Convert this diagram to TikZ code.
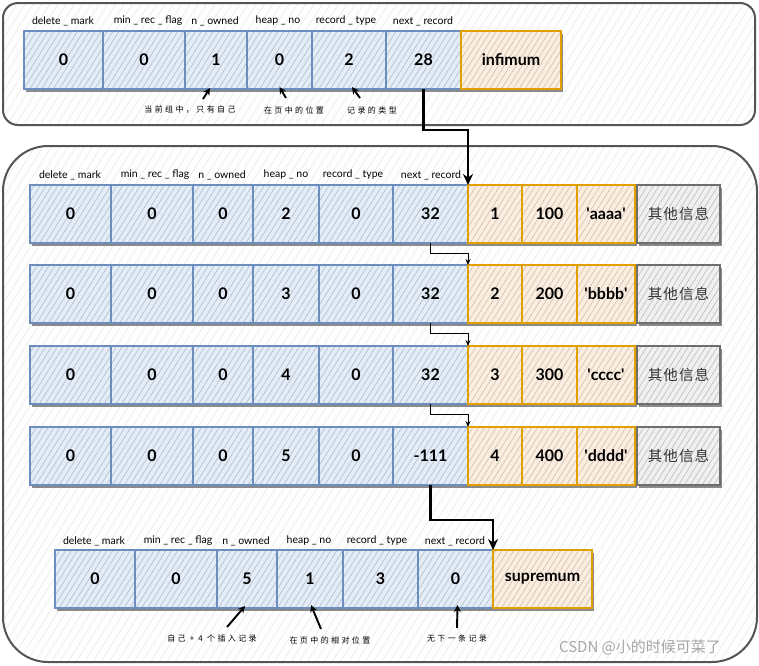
\documentclass[tikz,border=0pt]{standalone}
\usepackage{fontspec}
\setmainfont{Lato}
\newfontfamily\cjk{Noto Sans CJK SC}
\newfontfamily\cjkann[LetterSpace=30]{Noto Sans CJK SC}
\newfontfamily\cjkother[LetterSpace=8]{Noto Sans CJK SC}
\usetikzlibrary{patterns.meta,arrows.meta,calc}
\definecolor{bfill}{HTML}{E4ECF7}
\definecolor{bline}{HTML}{6C8EBF}
\definecolor{bhatch}{HTML}{A9B4C2}
\definecolor{ofill}{HTML}{FBEDE0}
\definecolor{oline}{HTML}{E0A000}
\definecolor{ohatch}{HTML}{C8B8A8}
\definecolor{gfill}{HTML}{F0F0F0}
\definecolor{gline}{HTML}{6E6E6E}
\definecolor{ghatch}{HTML}{B4B4B4}
\definecolor{frame}{HTML}{555555}
\definecolor{chatch}{HTML}{E6E6E6}
\definecolor{shadowc}{HTML}{8A8A8A}
\newcommand\cellat[7]{%
  \fill[shadowc] ({#3+1.5},{#5+3}) rectangle ({#4+1.5},{#6+3});
  \node[#2, minimum width={(#4-#3)*1pt}, minimum height={(#6-#5)*1pt}] (#1) at (#3,#5) {#7};}
\begin{document}
\begin{tikzpicture}[x=1pt,y=-1pt,
  cellbase/.style={draw, line width=1.1pt, inner sep=0pt, outer sep=0pt, anchor=north west,
    font=\bfseries\fontsize{16}{18}\selectfont},
  bluecell/.style={cellbase, draw=bline, preaction={fill=bfill},
    pattern={Lines[angle=58,distance=5pt,line width=0.5pt]}, pattern color=bhatch},
  orangecell/.style={cellbase, draw=oline, preaction={fill=ofill},
    pattern={Lines[angle=58,distance=5pt,line width=0.5pt]}, pattern color=ohatch},
  graycell/.style={cellbase, draw=gline, preaction={fill=gfill},
    pattern={Lines[angle=58,distance=5pt,line width=0.5pt]}, pattern color=ghatch,
    font=\cjkother\fontsize{14.5}{16}\selectfont, text=black!80},
  container/.style={draw=frame, line width=2pt, preaction={fill=white},
    pattern={Lines[angle=58,distance=7pt,line width=0.5pt]}, pattern color=chatch},
  lab/.style={font=\fontsize{10.5}{12}\selectfont, inner sep=0pt},
  ann/.style={font=\cjkann\fontsize{8}{9}\selectfont, inner sep=0pt},
  bigarrow/.style={line width=2.4pt, -{Stealth[length=11pt,width=10pt]}},
  smallarrow/.style={line width=0.8pt, -{Stealth[length=6pt,width=5pt]}},
  annot/.style={line width=1.9pt, -{Stealth[length=7pt,width=7pt]}}
]
\useasboundingbox (0,0) rectangle (759,665);

% containers
\path[container, rounded corners=15pt] (3,3) rectangle (755,125);
\path[container, rounded corners=45pt] (3,146) rectangle (757,662);

% ---- top row
\cellat{t1}{bluecell}{24}{103}{31}{89}{0}
\cellat{t2}{bluecell}{103}{185}{31}{89}{0}
\cellat{t3}{bluecell}{185}{247}{31}{89}{1}
\cellat{t4}{bluecell}{247}{312}{31}{89}{0}
\cellat{t5}{bluecell}{312}{386}{31}{89}{2}
\cellat{t6}{bluecell}{386}{461}{31}{89}{28}
\cellat{t7}{orangecell}{461}{561}{31}{89}{infimum}
\node[lab] (tl1) at (63,21) {delete \_ mark};
\node[lab] (tl2) at (148,21) {min \_ rec \_ flag};
\node[lab] (tl3) at (215,21) {n \_ owned};
\node[lab] (tl4) at (278,21) {heap \_ no};
\node[lab] (tl5) at (346,21) {record \_ type};
\node[lab] (tl6) at (423,21) {next \_ record};

% top annotations
\node[ann] (ta1) at (190,110) {当前组中，只有自己};
\node[ann] (ta2) at (294,110) {在页中的位置};
\node[ann] (ta3) at (372,110) {记录的类型};
\coordinate (tc1) at (203,99); \coordinate (tc2) at (286,98); \coordinate (tc3) at (360,98);
\draw[annot] (tc1) -- ($(t3.south)+(-6,-1)$);
\draw[annot] (tc2) -- ($(t4.south)+(0,-2)$);
\draw[annot] (tc3) -- ($(t5.south)+(3,-2)$);

% ---- middle rows
\foreach \r/\tp/\h/\v/\n/\s/\str in {1/185/2/32/1/100/aaaa, 2/265/3/32/2/200/bbbb, 3/346/4/32/3/300/cccc, 4/427/5/-111/4/400/dddd}{
  \pgfmathsetmacro\bt{\tp+58}
  \cellat{r\r a}{bluecell}{30}{111}{\tp}{\bt}{0}
  \cellat{r\r b}{bluecell}{111}{193}{\tp}{\bt}{0}
  \cellat{r\r c}{bluecell}{193}{253}{\tp}{\bt}{0}
  \cellat{r\r d}{bluecell}{253}{319}{\tp}{\bt}{\h}
  \cellat{r\r e}{bluecell}{319}{393}{\tp}{\bt}{0}
  \cellat{r\r f}{bluecell}{393}{468}{\tp}{\bt}{\v}
  \cellat{r\r g}{orangecell}{468}{522}{\tp}{\bt}{\n}
  \cellat{r\r h}{orangecell}{522}{577}{\tp}{\bt}{\s}
  \cellat{r\r i}{orangecell}{577}{635}{\tp}{\bt}{\textquotesingle\str\textquotesingle}
  \cellat{r\r j}{graycell}{637}{720}{\tp}{\bt}{其他信息}
}
\node[lab] (ml1) at (70,175) {delete \_ mark};
\node[lab] (ml2) at (155,175) {min \_ rec \_ flag};
\node[lab] (ml3) at (222,175) {n \_ owned};
\node[lab] (ml4) at (286,175) {heap \_ no};
\node[lab] (ml5) at (353,175) {record \_ type};
\node[lab] (ml6) at (431,175) {next \_ record};

% ---- bottom row
\cellat{b1}{bluecell}{55}{135}{550}{608}{0}
\cellat{b2}{bluecell}{135}{217}{550}{608}{0}
\cellat{b3}{bluecell}{217}{277}{550}{608}{5}
\cellat{b4}{bluecell}{277}{343}{550}{608}{1}
\cellat{b5}{bluecell}{343}{418}{550}{608}{3}
\cellat{b6}{bluecell}{418}{493}{550}{608}{0}
\cellat{b7}{orangecell}{493}{592}{550}{608}{supremum}
\node[lab] (bl1) at (94,541) {delete \_ mark};
\node[lab] (bl2) at (178,541) {min \_ rec \_ flag};
\node[lab] (bl3) at (246,541) {n \_ owned};
\node[lab] (bl4) at (309,541) {heap \_ no};
\node[lab] (bl5) at (377,541) {record \_ type};
\node[lab] (bl6) at (455,541) {next \_ record};

% bottom annotations
\node[ann] (ba1) at (212,638) {自己 + 4 个插入记录};
\node[ann] (ba2) at (330,640) {在页中的相对位置};
\node[ann] (ba3) at (457,638) {无下一条记录};
\coordinate (bc1) at (227,627); \coordinate (bc2) at (321,629); \coordinate (bc3) at (457,628);
\draw[annot] (bc1) -- ($(b3.south)+(-2,-2)$);
\draw[annot] (bc2) -- ($(b4.south)+(1,-3)$);
\draw[annot] (bc3) -- ($(b6.south)+(2,-3)$);

% ---- connectors
\draw[bigarrow] (t6.south) -- ++(0,41) -| (r1g.north west);
\draw[smallarrow] (r1f.south) -- ++(0,10) -| (r2g.north west);
\draw[smallarrow] (r2f.south) -- ++(0,10) -| (r3g.north west);
\draw[smallarrow] (r3f.south) -- ++(0,10) -| (r4g.north west);
\draw[bigarrow] (r4f.south) -- ++(0,35) -| (b7.north west);

% watermark
\node[font=\cjk\fontsize{15}{17}\selectfont, text=gray!70, inner sep=0pt] (wm) at (640,647) {CSDN @小的时候可菜了};
\end{tikzpicture}
\end{document}
